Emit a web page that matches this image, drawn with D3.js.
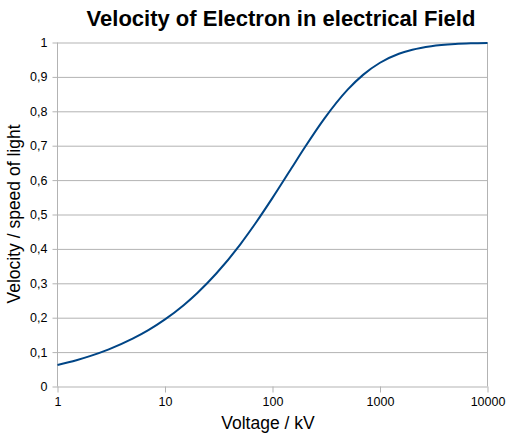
<!DOCTYPE html>
<html><head><meta charset="utf-8">
<script src="https://cdn.jsdelivr.net/npm/d3@7"></script>
<style>body{margin:0;background:#fff}svg{display:block}text{font-family:"Liberation Sans",Arial,sans-serif}</style>
</head><body>
<svg id="c" width="510" height="439"></svg>
<script>
const voltage = [1,1.5,2,3,5,7,10,15,20,30,50,70,100,150,200,300,500,700,1000,1500,2000,3000,5000,7000,10000];
const beta = [0.0625,0.0764,0.0882,0.1079,0.1389,0.1638,0.1950,0.2371,0.2719,0.3284,0.4127,0.4759,0.5482,0.6343,0.6953,0.7765,0.8629,0.9066,0.9411,0.9672,0.9791,0.9894,0.9957,0.9977,0.9988];
const xTicks = [1,10,100,1000,10000];
const yTicks = [0,0.1,0.2,0.3,0.4,0.5,0.6,0.7,0.8,0.9,1];

const L=57.5,R=487.5,T=42.5,B=386.5;
const svg=d3.select("#c");
const x=d3.scaleLog().domain([1,10000]).range([L,R]);
const y=d3.scaleLinear().domain([0,1]).range([B,T]);

svg.append("g").attr("transform",`translate(${L},0)`)
  .call(d3.axisLeft(y).tickValues(yTicks).tickSize(-(R-L)).tickPadding(10).tickFormat(d=>String(d).replace(".",",")))
  .call(g=>{g.select(".domain").remove();
    g.selectAll(".tick line").attr("stroke","#b3b3b3").attr("x1",-5);
    g.selectAll(".tick text").attr("font-size",12.5).attr("fill","#000");});
svg.append("g").attr("transform",`translate(0,${B})`)
  .call(d3.axisBottom(x).tickValues(xTicks).tickSize(6).tickPadding(5).tickFormat(d3.format("d")))
  .call(g=>{g.select(".domain").remove();
    g.selectAll(".tick line").attr("stroke","#b3b3b3");
    g.selectAll(".tick text").attr("font-size",12.5).attr("fill","#000");});
svg.append("line").attr("x1",L).attr("x2",L).attr("y1",T).attr("y2",B).attr("stroke","#b3b3b3");
svg.append("line").attr("x1",R).attr("x2",R).attr("y1",T).attr("y2",B).attr("stroke","#b3b3b3");

const line=d3.line().x((d,i)=>x(voltage[i])).y(d=>y(d)).curve(d3.curveMonotoneX);
svg.append("path").attr("d",line(beta)).attr("fill","none").attr("stroke","#004586").attr("stroke-width",2);

svg.append("text").attr("x",281).attr("y",26).attr("text-anchor","middle").attr("font-size",22).attr("font-weight","bold").text("Velocity of Electron in electrical Field");
svg.append("text").attr("x",268).attr("y",429).attr("text-anchor","middle").attr("font-size",17.5).text("Voltage / kV");
svg.append("text").attr("transform","translate(20,214) rotate(-90)").attr("text-anchor","middle").attr("font-size",17.5).text("Velocity / speed of light");
</script>
</body></html>
